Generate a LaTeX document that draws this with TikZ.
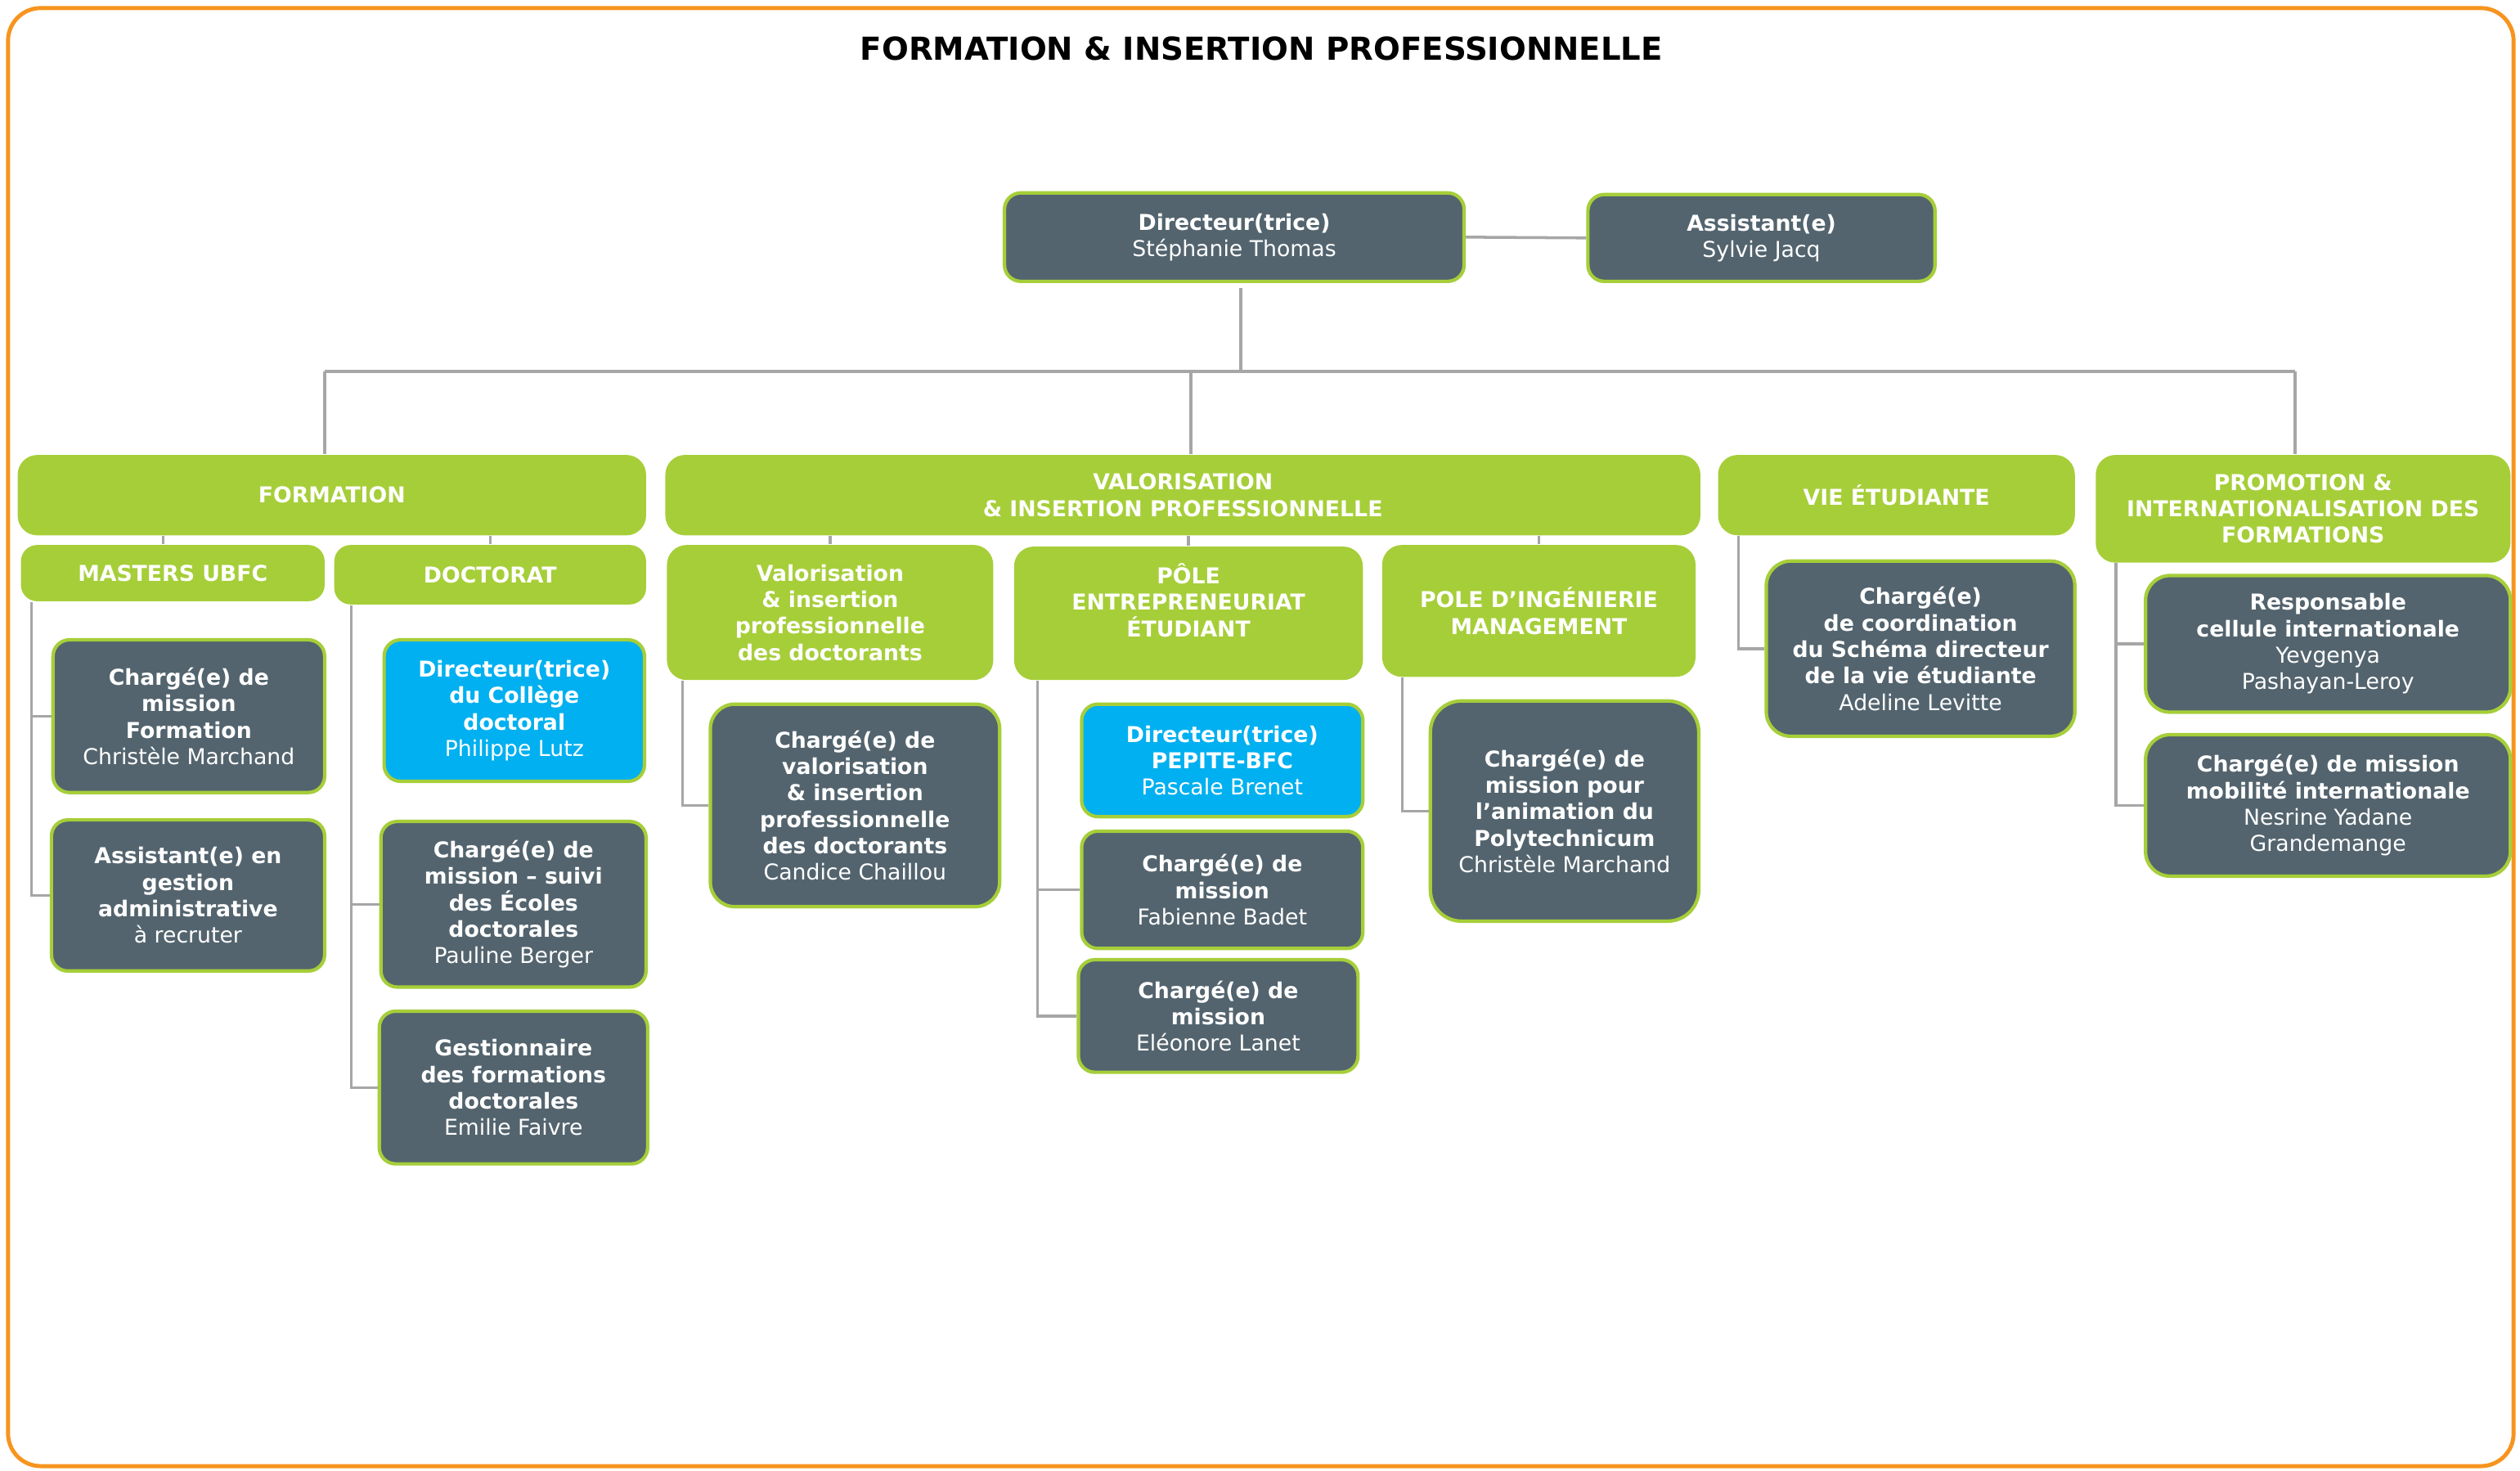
\documentclass[tikz,border=0pt]{standalone}
\usepackage{fontspec}
\setmainfont{DejaVu Sans}
\usetikzlibrary{calc}
\definecolor{mygreen}{RGB}{166,206,57}
\definecolor{myslate}{RGB}{83,100,110}
\definecolor{myblue}{RGB}{0,176,240}
\definecolor{myorange}{RGB}{247,148,30}
\definecolor{mygray}{RGB}{166,166,166}
\def\pxu{0.01965cm}
\tikzset{
  dims/.style 2 args={minimum width=#1*\pxu, minimum height=#2*\pxu},
  headbox/.style={fill=mygreen, rounded corners=0.24cm, text=white, align=center, inner sep=0pt,
    font=\fontsize{7.6}{9.2}\selectfont\bfseries},
  staffbox/.style={fill=myslate, draw=mygreen, line width=1.2pt, rounded corners=0.2cm, text=white,
    align=center, inner sep=0pt, font=\fontsize{7.6}{9.2}\selectfont},
  leadbox/.style={staffbox, fill=myblue},
  link/.style={draw=mygray, line width=1pt}
}

\begin{document}
\begin{tikzpicture}[x=\pxu, y=-\pxu]
\useasboundingbox (0,0) rectangle (1568,915);
\draw[myorange, line width=1.4pt, rounded corners=0.4cm] (5,5) rectangle (1564,912);
\node[font=\fontsize{11}{13}\selectfont\bfseries] (title) at (785,30) {FORMATION \& INSERTION PROFESSIONNELLE};

% direction
\node[staffbox, dims={286}{55}] (dir) at (768,147.5) {\textbf{Directeur(trice)}\\Stéphanie Thomas};
\node[staffbox, dims={216}{54}] (asst) at (1096,148) {\textbf{Assistant(e)}\\Sylvie Jacq};

% poles
\node[headbox, dims={391}{50}] (form) at (206.5,308) {FORMATION};
\node[headbox, dims={644}{50}] (valo) at (736,308) {VALORISATION\\\& INSERTION PROFESSIONNELLE};
\node[headbox, dims={222}{50}] (vie) at (1180,308) {VIE ÉTUDIANTE};
\node[headbox, dims={258}{67}] (promo) at (1433,316.5) {PROMOTION \&\\INTERNATIONALISATION DES\\FORMATIONS};

\node[headbox, rounded corners=0.2cm, dims={189}{35}] (masters) at (107.5,356.5) {MASTERS UBFC};
\node[headbox, rounded corners=0.2cm, dims={194}{37}] (doct) at (305,357.5) {DOCTORAT};
\node[headbox, dims={203}{84}] (valdoc) at (516.5,381) {Valorisation\\\& insertion\\professionnelle\\des doctorants};
\node[headbox, dims={217}{83}] (pole) at (739.5,381.5) {PÔLE\\ENTREPRENEURIAT\\ÉTUDIANT\\\mbox{}};
\node[headbox, dims={195}{82}] (inge) at (957.5,380) {POLE D’INGÉNIERIE\\MANAGEMENT};

% masters / doctorat
\node[staffbox, dims={169}{95}] (chfor) at (117.5,445.5)
  {\textbf{Chargé(e) de}\\\textbf{mission}\\\textbf{Formation}\\Christèle Marchand};
\node[staffbox, dims={170}{94}] (asgest) at (117,557)
  {\textbf{Assistant(e) en}\\\textbf{gestion}\\\textbf{administrative}\\à recruter};
\node[leadbox, dims={162}{88}] (coldoc) at (320,442)
  {\textbf{Directeur(trice)}\\\textbf{du Collège}\\\textbf{doctoral}\\Philippe Lutz};
\node[staffbox, dims={165}{103}] (suivi) at (319.5,562.5)
  {\textbf{Chargé(e) de}\\\textbf{mission – suivi}\\\textbf{des Écoles}\\\textbf{doctorales}\\Pauline Berger};
\node[staffbox, dims={167}{95}] (gest) at (319.5,676.5)
  {\textbf{Gestionnaire}\\\textbf{des formations}\\\textbf{doctorales}\\Emilie Faivre};

% valorisation
\node[staffbox, rounded corners=0.3cm, dims={180}{126}] (chval) at (532,501)
  {\textbf{Chargé(e) de}\\\textbf{valorisation}\\\textbf{\& insertion}\\\textbf{professionnelle}\\\textbf{des doctorants}\\Candice Chaillou};
\node[leadbox, dims={175}{70}] (pepite) at (760.5,473)
  {\textbf{Directeur(trice)}\\\textbf{PEPITE-BFC}\\Pascale Brenet};
\node[staffbox, dims={175}{73}] (badet) at (760.5,553.5)
  {\textbf{Chargé(e) de}\\\textbf{mission}\\Fabienne Badet};
\node[staffbox, dims={174}{70}] (lanet) at (758,632)
  {\textbf{Chargé(e) de}\\\textbf{mission}\\Eléonore Lanet};
\node[staffbox, rounded corners=0.38cm, dims={167}{137}] (poly) at (973.5,504.5)
  {\textbf{Chargé(e) de}\\\textbf{mission pour}\\\textbf{l’animation du}\\\textbf{Polytechnicum}\\Christèle Marchand};

% vie etudiante / promotion
\node[staffbox, rounded corners=0.3cm, dims={192}{109}] (chvie) at (1195,403.5)
  {\textbf{Chargé(e)}\\\textbf{de coordination}\\\textbf{du Schéma directeur}\\\textbf{de la vie étudiante}\\Adeline Levitte};
\node[staffbox, rounded corners=0.3cm, dims={227}{85}] (resp) at (1448.5,400.5)
  {\textbf{Responsable}\\\textbf{cellule internationale}\\Yevgenya\\Pashayan-Leroy};
\node[staffbox, rounded corners=0.3cm, dims={227}{88}] (mobil) at (1448.5,501)
  {\textbf{Chargé(e) de mission}\\\textbf{mobilité internationale}\\Nesrine Yadane\\Grandemange};

% links
\coordinate (busL) at (202,231);
\coordinate (busR) at (1428,231);
\coordinate (dirbus) at (772,231);
\draw[link] (dir.east) -- (asst.west);
\draw[link] ($(dirbus |- dir.south)+(0,3)$) -- (dirbus);
\draw[link] (busL) -- (busR);
\draw[link] (busL) -- (busL |- form.north);
\draw[link] ($(valo.north)+(5,0)$) -- ($(valo.north |- busL)+(5,0)$);
\draw[link] (busR) -- (busR |- promo.north);

\draw[link] ($(masters.north)+(-6,0)$) -- ($(masters.north |- form.south)+(-6,0)$);
\draw[link] (doct.north) -- (doct.north |- form.south);
\draw[link] (valdoc.north) -- (valdoc.north |- valo.south);
\draw[link] (pole.north) -- (pole.north |- valo.south);
\draw[link] (inge.north) -- (inge.north |- valo.south);

\draw[link] ($(masters.south west)+(7,0)$) |- (chfor.west) ($(masters.south west)+(7,0)$) |- (asgest.west);
\draw[link] ($(doct.south west)+(11,0)$) |- (suivi.west) ($(doct.south west)+(11,0)$) |- (gest.west);
\draw[link] ($(valdoc.south west)+(10,0)$) |- (chval.west);
\draw[link] ($(pole.south west)+(15,0)$) |- (badet.west) ($(pole.south west)+(15,0)$) |- (lanet.west);
\draw[link] ($(inge.south west)+(13,0)$) |- (poly.west);
\draw[link] ($(vie.south west)+(13,0)$) |- (chvie.west);
\draw[link] ($(promo.south west)+(13,0)$) |- (resp.west) ($(promo.south west)+(13,0)$) |- (mobil.west);
\end{tikzpicture}
\end{document}
